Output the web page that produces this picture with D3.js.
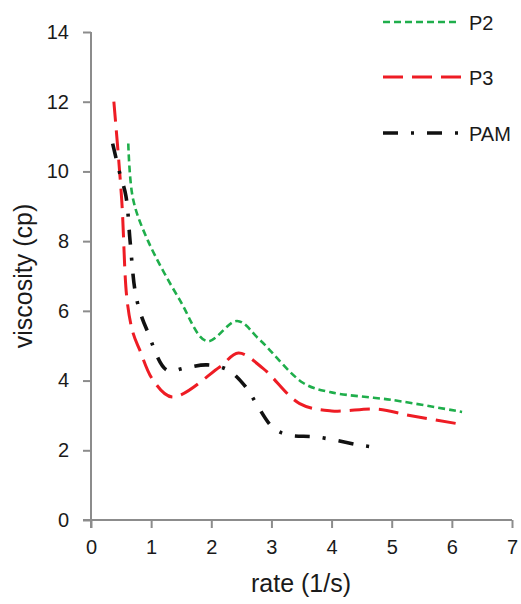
<!DOCTYPE html>
<html>
<head>
<meta charset="utf-8">
<script src="https://cdn.jsdelivr.net/npm/d3@7"></script>
<style>
html,body{margin:0;padding:0;background:#fff;}
svg{display:block;}
</style>
</head>
<body>
<svg id="chart" width="521" height="604"></svg>
<script>
const seriesNames = ["P2", "P3", "PAM"];
const p2Data = [[0.62,10.8],[0.70,9.2],[0.95,8.0],[1.48,6.3],[1.93,5.13],[2.43,5.71],[2.81,5.16],[3.53,3.93],[3.97,3.67],[5.02,3.44],[6.17,3.1]];
const p3Data = [[0.38,12.0],[0.51,9.2],[0.60,6.3],[0.70,5.36],[0.81,4.88],[1.03,4.02],[1.35,3.53],[2.14,4.39],[2.45,4.79],[2.86,4.35],[3.47,3.34],[4.0,3.13],[4.75,3.18],[5.3,3.0],[6.14,2.75]];
const pamData = [[0.36,10.8],[0.47,10.0],[0.58,9.3],[0.65,8.0],[0.73,6.6],[0.81,6.0],[0.93,5.45],[1.26,4.3],[1.56,4.36],[1.93,4.45],[2.28,4.3],[2.59,3.78],[2.76,3.3],[3.03,2.64],[3.28,2.44],[3.76,2.38],[4.47,2.15],[4.76,2.08]];
const xTicks = [0,1,2,3,4,5,6,7];
const yTicks = [0,2,4,6,8,10,12,14];
const xTitle = "rate (1/s)";
const yTitle = "viscosity (cp)";

const svg = d3.select("#chart");
const x = d3.scaleLinear().domain([0,7]).range([91,512]);
const y = d3.scaleLinear().domain([0,14]).range([520,32]);
const axisColor = "#8c8c8c";
const textColor = "#1a1a1a";
const font = "'Liberation Sans', Arial, sans-serif";

// axes
const xAxis = svg.append("g").attr("transform","translate(0,520)")
  .call(d3.axisBottom(x).tickValues(xTicks).tickSize(8).tickPadding(12).tickFormat(d3.format("d")));
const yAxis = svg.append("g").attr("transform","translate(91,0)")
  .call(d3.axisLeft(y).tickValues(yTicks).tickSize(8).tickPadding(14).tickFormat(d3.format("d")));
[xAxis,yAxis].forEach(g=>{
  g.select(".domain").attr("stroke",axisColor).attr("stroke-width",2);
  g.selectAll(".tick line").attr("stroke",axisColor).attr("stroke-width",2);
  g.selectAll(".tick text").attr("fill",textColor).style("font-family",font).style("font-size","20px");
});
xAxis.select(".domain").attr("d","M" + (x(0)-8) + ",0H" + x(7));
yAxis.select(".domain").attr("d","M0," + y(14) + "V" + (y(0)+8));

// titles
svg.append("text").attr("x",301).attr("y",592).attr("text-anchor","middle")
  .attr("fill",textColor).style("font-family",font).style("font-size","25px").text(xTitle);
svg.append("text").attr("transform","translate(32,276) rotate(-90)").attr("text-anchor","middle")
  .attr("fill",textColor).style("font-family",font).style("font-size","25px").text(yTitle);

const styles = {
  P2: {color:"#1fae4b", dash:"7,4", width:2.6},
  P3: {color:"#ee1c24", dash:"20,9", width:3},
  PAM:{color:"#111111", dash:"15,13,3,13", width:3.6}
};
const allData = {P2:p2Data, P3:p3Data, PAM:pamData};
const line = d3.line().x(d=>x(d[0])).y(d=>y(d[1])).curve(d3.curveCatmullRom.alpha(0.5));

seriesNames.forEach(n=>{
  svg.append("path").datum(allData[n]).attr("d",line).attr("fill","none")
    .attr("stroke",styles[n].color).attr("stroke-width",styles[n].width)
    .attr("stroke-dasharray",styles[n].dash);
});

// legend
const legendY = [22,77,133];
seriesNames.forEach((n,i)=>{
  svg.append("line").attr("x1",383).attr("x2",n==="P2"?457:(n==="P3"?462:460)).attr("y1",legendY[i]).attr("y2",legendY[i])
    .attr("stroke",styles[n].color).attr("stroke-width",styles[n].width).attr("stroke-dasharray",styles[n].dash);
  svg.append("text").attr("x",469).attr("y",legendY[i]+7.5).attr("fill",textColor)
    .style("font-family",font).style("font-size","20px").text(n);
});
</script>
</body>
</html>
